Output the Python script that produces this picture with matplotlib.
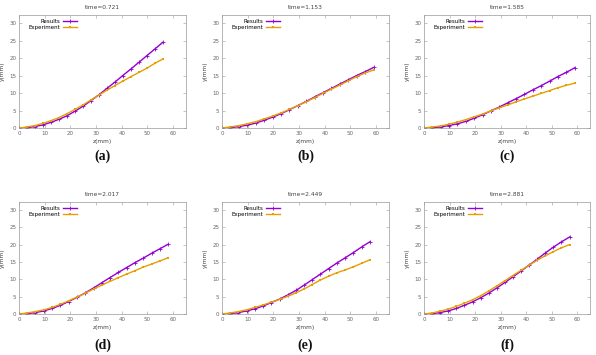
#!/usr/bin/env python3
"""Six-panel comparison of simulated vs measured profiles y(z) at several times."""

import matplotlib

matplotlib.use("Agg")
import matplotlib.pyplot as plt  # noqa: E402

# ---------------------------------------------------------------------------
# Data
# ---------------------------------------------------------------------------

times = ["0.721", "1.153", "1.585", "2.017", "2.449", "2.881"]
letters = ["(a)", "(b)", "(c)", "(d)", "(e)", "(f)"]

z_a = [0, 3.1, 6.2, 9.3, 12.4, 15.6, 18.7, 21.8, 24.9, 28.0, 31.1, 34.2, 37.3, 40.4, 43.6, 46.7, 49.8, 52.9, 56.0]
res_a = [0, 0.1, 0.4, 0.9, 1.6, 2.5, 3.5, 4.8, 6.2, 7.8, 9.5, 11.3, 13.1, 15.0, 16.9, 18.8, 20.7, 22.6, 24.5]
exp_a = [0, 0.3, 0.7, 1.3, 2.1, 3.0, 4.1, 5.3, 6.6, 8.0, 9.4, 10.8, 12.1, 13.4, 14.7, 15.9, 17.1, 18.5, 19.7]

z_b = [0, 3.3, 6.6, 9.8, 13.1, 16.4, 19.7, 23.0, 26.2, 29.5, 32.8, 36.1, 39.3, 42.6, 45.9, 49.2, 52.4, 55.7, 59.0]
res_b = [0, 0.1, 0.4, 0.8, 1.4, 2.2, 3.1, 4.1, 5.2, 6.4, 7.6, 8.9, 10.1, 11.3, 12.6, 13.8, 15.0, 16.1, 17.3]
exp_b = [0, 0.3, 0.7, 1.2, 1.8, 2.6, 3.4, 4.3, 5.3, 6.4, 7.5, 8.7, 9.9, 11.1, 12.3, 13.5, 14.7, 15.7, 16.6]

z_c = [0, 3.3, 6.6, 9.8, 13.1, 16.4, 19.7, 23.0, 26.2, 29.5, 32.8, 36.1, 39.3, 42.6, 45.9, 49.2, 52.4, 55.7, 59.0]
res_c = [0, 0.1, 0.3, 0.7, 1.2, 1.9, 2.8, 3.8, 4.9, 6.0, 7.2, 8.4, 9.6, 10.9, 12.1, 13.4, 14.7, 15.9, 17.2]
exp_c = [0, 0.3, 0.6, 1.1, 1.7, 2.4, 3.2, 4.0, 4.9, 5.8, 6.6, 7.5, 8.3, 9.1, 9.9, 10.7, 11.5, 12.2, 12.8]

z_d = [0, 3.2, 6.4, 9.7, 12.9, 16.1, 19.3, 22.6, 25.8, 29.0, 32.2, 35.4, 38.7, 41.9, 45.1, 48.3, 51.6, 54.8, 58.0]
res_d = [0, 0.1, 0.4, 0.9, 1.6, 2.5, 3.6, 4.8, 6.1, 7.5, 9.0, 10.5, 12.0, 13.4, 14.8, 16.1, 17.5, 18.8, 20.1]
exp_d = [0, 0.3, 0.7, 1.2, 1.9, 2.8, 3.8, 4.9, 6.0, 7.2, 8.3, 9.4, 10.5, 11.5, 12.5, 13.5, 14.4, 15.3, 16.2]

z_e = [0, 3.2, 6.4, 9.6, 12.8, 16.0, 19.2, 22.4, 25.6, 28.8, 31.9, 35.1, 38.3, 41.5, 44.7, 47.9, 51.1, 54.3, 57.5]
res_e = [0, 0.1, 0.4, 0.9, 1.5, 2.3, 3.3, 4.3, 5.5, 6.8, 8.3, 9.9, 11.5, 13.1, 14.7, 16.2, 17.7, 19.3, 20.8]
exp_e = [0, 0.3, 0.7, 1.2, 1.9, 2.6, 3.4, 4.2, 5.1, 6.1, 7.2, 8.5, 9.8, 10.9, 11.9, 12.7, 13.6, 14.6, 15.6]

z_f = [0, 3.2, 6.3, 9.5, 12.7, 15.8, 19.0, 22.2, 25.3, 28.5, 31.7, 34.8, 38.0, 41.2, 44.3, 47.5, 50.7, 53.8, 57.0]
res_f = [0, 0.1, 0.4, 0.9, 1.6, 2.5, 3.5, 4.7, 6.0, 7.5, 9.1, 10.7, 12.4, 14.1, 15.8, 17.6, 19.3, 20.8, 22.2]
exp_f = [0, 0.3, 0.8, 1.4, 2.2, 3.1, 4.1, 5.3, 6.6, 8.1, 9.6, 11.1, 12.6, 14.1, 15.5, 16.8, 18.0, 19.1, 20.0]

panels = [
    (z_a, res_a, exp_a),
    (z_b, res_b, exp_b),
    (z_c, res_c, exp_c),
    (z_d, res_d, exp_d),
    (z_e, res_e, exp_e),
    (z_f, res_f, exp_f),
]

# ---------------------------------------------------------------------------
# Layout (figure fractions, 596 x 355 px)
# ---------------------------------------------------------------------------

W, H = 596, 355
lefts = [19, 222, 424]
widths = [167, 167, 166]
rows = [(15, 128), (202, 314)]   # (top, bottom) in px
letter_y = [156, 345]            # centre of the (a)...(f) captions, px

PURPLE = "#9400d3"
ORANGE = "#e69f00"
FRAME = "#999999"
TICKTXT = "#666666"

fig = plt.figure(figsize=(W / 100, H / 100), dpi=100)

for i, (z, res, exp) in enumerate(panels):
    r, c = divmod(i, 3)
    top, bot = rows[r]
    ax = fig.add_axes([lefts[c] / W, 1 - bot / H, widths[c] / W, (bot - top) / H])

    ax.plot(z, res, "-", color=PURPLE, lw=1.0, marker="+", ms=2.5, mew=0.6, label="Results")
    ax.plot(z, exp, "-", color=ORANGE, lw=1.0, marker="s", ms=1.8, mew=0, label="Experiment")

    ax.set_xlim(0, 65)
    ax.set_ylim(0, 32.3)
    ax.set_xticks([0, 10, 20, 30, 40, 50, 60])
    ax.set_yticks([0, 5, 10, 15, 20, 25, 30])
    ax.tick_params(direction="in", length=2, width=0.4, colors=FRAME,
                   labelcolor=TICKTXT, labelsize=4, pad=2, top=True, right=True)
    for sp in ax.spines.values():
        sp.set_color(FRAME)
        sp.set_linewidth(0.5)

    ax.set_title(f"time={times[i]}", fontsize=4.2, color="#444444", pad=4)
    ax.set_xlabel("z(mm)", fontsize=4.2, color="#444444", labelpad=2)
    ax.set_ylabel("y(mm)", fontsize=4.2, color="#444444", labelpad=3)

    ax.legend(loc="upper left", bbox_to_anchor=(0.03, 1.0), frameon=False, markerfirst=False,
              fontsize=4, handlelength=2.4, handletextpad=0.6, labelspacing=0.15, borderpad=0.25)

    cx = (lefts[c] + widths[c] / 2) / W
    fig.text(cx, 1 - letter_y[r] / H, letters[i], ha="center", va="center",
             fontsize=10, fontweight="bold", family="Liberation Serif", color="#111111")

fig.savefig("out.png", dpi=100)
